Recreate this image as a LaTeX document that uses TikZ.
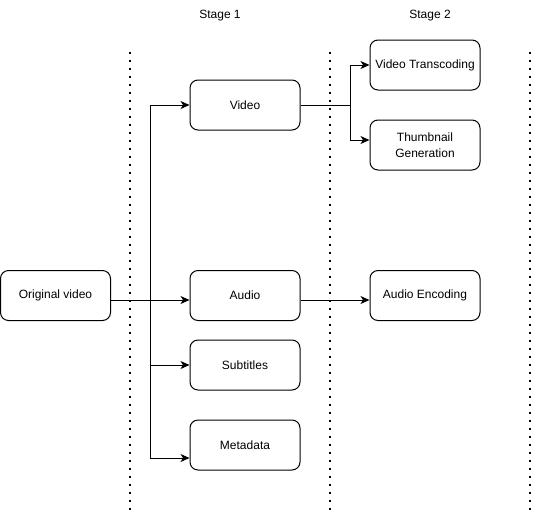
\documentclass[tikz,border=0pt]{standalone}
\usepackage{fontspec}
\setmainfont{Liberation Sans}
\usetikzlibrary{arrows.meta}
\begin{document}
\begin{tikzpicture}[x=1pt,y=-1pt,
  box/.style={draw, line width=1pt, rounded corners=8pt, minimum width=110pt, minimum height=50pt, inner sep=0pt, align=center, font=\fontsize{12}{16}\selectfont},
  arr/.style={line width=1pt, -{Stealth[length=9pt,width=8pt,inset=2.5pt]}},
  ln/.style={line width=1pt},
  sep/.style={line width=2pt, dash pattern=on 2pt off 6pt},
  lbl/.style={font=\fontsize{12}{14}\selectfont}]
\useasboundingbox (0,0) rectangle (533,512);
% separators
\coordinate (s1t) at (130,52); \coordinate (s1b) at (130,512);
\coordinate (s2t) at (330,52); \coordinate (s2b) at (330,512);
\coordinate (s3t) at (530,52); \coordinate (s3b) at (530,512);
\draw[sep] (s1t) -- (s1b);
\draw[sep] (s2t) -- (s2b);
\draw[sep] (s3t) -- (s3b);
% labels
\node[lbl] (st1) at (220,16) {Stage 1};
\node[lbl] (st2) at (430,16) {Stage 2};
% boxes
\node[box] (orig) at (55.5,295.5) {Original video};
\node[box] (video) at (245,105) {Video};
\node[box] (audio) at (245,295.5) {Audio};
\node[box] (subs) at (245,365) {Subtitles};
\node[box] (meta) at (245,445) {Metadata};
\node[box] (trans) at (425,65) {Video Transcoding};
\node[box] (thumb) at (425,145) {Thumbnail\\Generation};
\node[box] (enc) at (425,295.5) {Audio Encoding};
% connectors
\coordinate (j) at (150,300);
\draw[arr] ([yshift=-4.5pt]orig.east) -- ([yshift=-4.5pt]audio.west);
\draw[arr] (j) |- (video.west);
\draw[arr] (j) |- (subs.west);
\draw[arr] (j) |- ([yshift=-13pt]meta.west);
\coordinate (k) at (350,105);
\draw[ln] (video.east) -- (k);
\draw[arr] (k) |- (trans.west);
\draw[arr] (k) |- ([yshift=5pt]thumb.west);
\draw[arr] ([yshift=-4.5pt]audio.east) -- ([yshift=-4.5pt]enc.west);
\end{tikzpicture}
\end{document}
